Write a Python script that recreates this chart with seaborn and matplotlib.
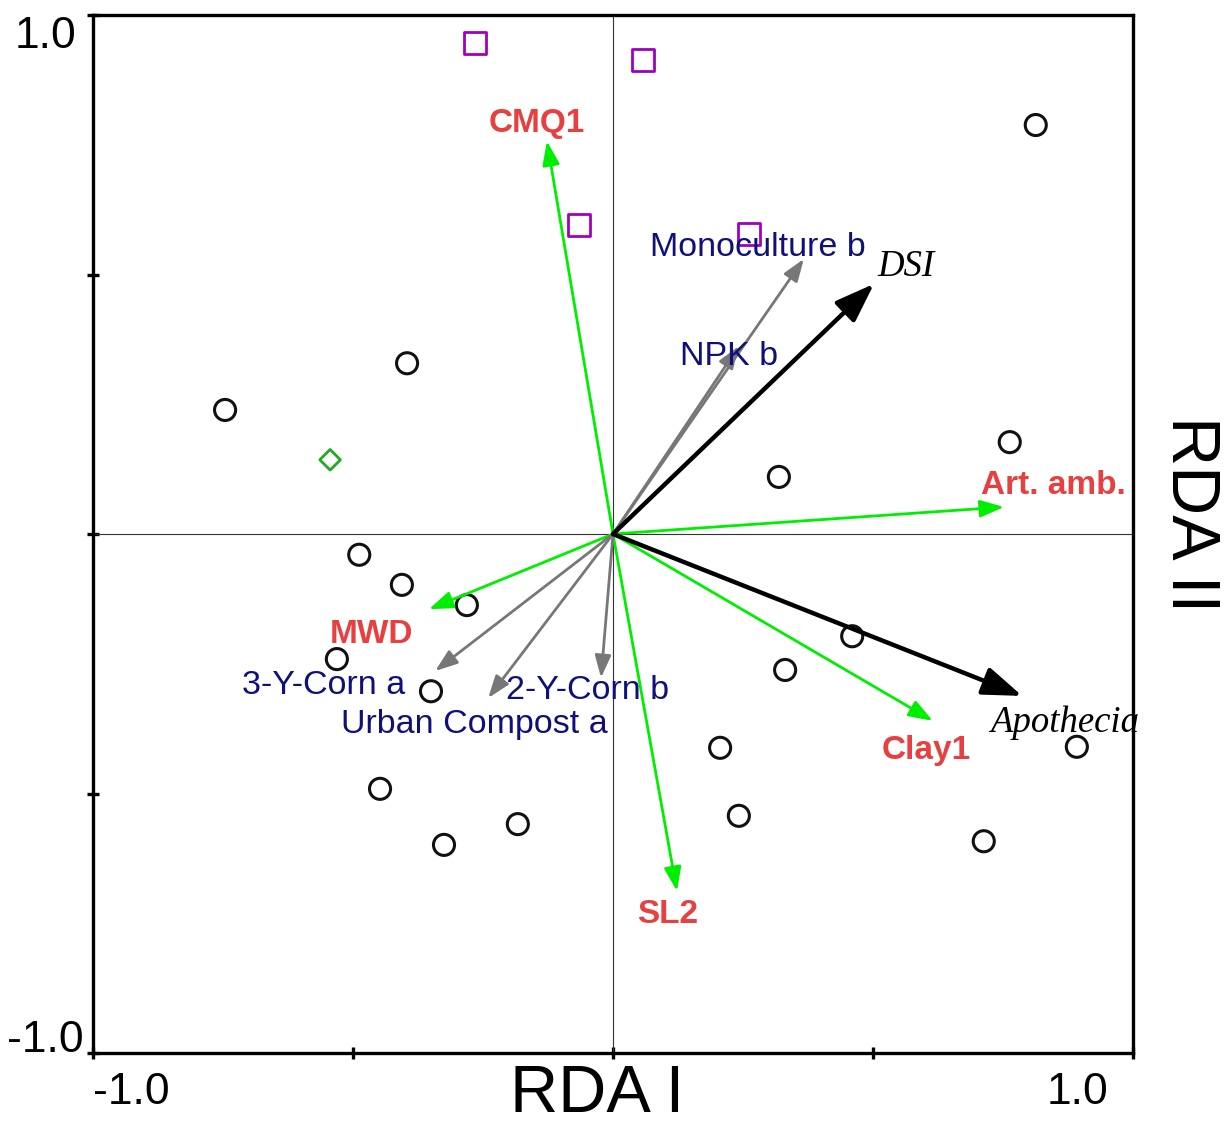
import matplotlib
matplotlib.use("Agg")
import matplotlib.pyplot as plt
import seaborn as sns
import pandas as pd

# Sample scores
site_x = [0.813, -0.396, -0.746, 0.763, 0.319, -0.488, -0.406, -0.281, 0.460, -0.531,
          0.331, -0.350, 0.206, 0.892, -0.448, -0.183, 0.242, -0.325, 0.713]
site_y = [0.788, 0.329, 0.239, 0.177, 0.110, -0.040, -0.098, -0.137, -0.197, -0.241,
          -0.262, -0.303, -0.412, -0.410, -0.491, -0.559, -0.543, -0.599, -0.592]
square_x = [-0.265, 0.058, -0.065, 0.262]
square_y = [0.946, 0.913, 0.595, 0.578]
diamond_x = [-0.544]
diamond_y = [0.143]

# Soil variables (green arrows)
env_names = ["CMQ1", "Art. amb.", "MWD", "Clay1", "SL2"]
env_x = [-0.127, 0.752, -0.354, 0.615, 0.123]
env_y = [0.757, 0.052, -0.145, -0.360, -0.688]

# Management factors (grey arrows)
trt_names = ["Monoculture b", "NPK b", "3-Y-Corn a", "Urban Compost a", "2-Y-Corn b"]
trt_x = [0.367, 0.242, -0.342, -0.240, -0.023]
trt_y = [0.530, 0.362, -0.264, -0.316, -0.277]

# Response variables (black arrows)
resp_names = ["DSI", "Apothecia"]
resp_x = [0.502, 0.787]
resp_y = [0.482, -0.312]

# label offsets from arrow tips, in pixels
env_off = [(-10, 18), (49, 22), (-57, -25), (-7, -30), (-9, -23)]
trt_off = [(-46, 11), (-10, -10), (-112, -14), (-14, -26), (-13, -13)]
resp_off = [(32, 17), (42, -27)]

sns.set_style("white")
plt.rcParams["font.family"] = ["Liberation Sans", "DejaVu Sans"]

fig = plt.figure(figsize=(12.25, 11.27), dpi=100)
ax = fig.add_axes([93 / 1225, 1 - 1053 / 1127, 1040 / 1225, 1038 / 1127])
ax.set_xlim(-1, 1)
ax.set_ylim(-1, 1)

ax.axhline(0, color="#333333", lw=0.8, zorder=1)
ax.axvline(0, color="#333333", lw=0.8, zorder=1)

sites = pd.DataFrame({"x": site_x, "y": site_y})
squares = pd.DataFrame({"x": square_x, "y": square_y})
diamonds = pd.DataFrame({"x": diamond_x, "y": diamond_y})

sns.scatterplot(data=sites, x="x", y="y", ax=ax, marker="o", s=230,
                facecolor="none", edgecolor="#111111", linewidth=2.2, zorder=3)
sns.scatterplot(data=squares, x="x", y="y", ax=ax, marker="s", s=260,
                facecolor="none", edgecolor="#a000c0", linewidth=2.0, zorder=3)
sns.scatterplot(data=diamonds, x="x", y="y", ax=ax, marker="D", s=110,
                facecolor="none", edgecolor="#22aa22", linewidth=2.0, zorder=3)


def arrow(x, y, color, lw, scale, hw):
    ax.annotate("", xy=(x, y), xytext=(0, 0),
                arrowprops=dict(arrowstyle=f"-|>,head_length=0.5,head_width={hw}",
                                color=color, lw=lw,
                                mutation_scale=scale, shrinkA=0, shrinkB=0),
                zorder=4)


def label(text, x, y, off, **kw):
    ax.annotate(text, xy=(x, y), xytext=off, textcoords="offset pixels",
                ha="center", va="center", zorder=5, **kw)


for n, x, y, o in zip(env_names, env_x, env_y, env_off):
    arrow(x, y, "#00ee00", 2.0, 29, 0.18)
    label(n, x, y, o, color="#e84040", fontsize=24, fontweight="bold")

for n, x, y, o in zip(trt_names, trt_x, trt_y, trt_off):
    arrow(x, y, "#777777", 2.0, 27, 0.18)
    label(n, x, y, o, color="#10107a", fontsize=24.5)

for n, x, y, o in zip(resp_names, resp_x, resp_y, resp_off):
    arrow(x, y, "black", 3.2, 48, 0.18)
    label(n, x, y, o, color="black", fontsize=26.5, style="italic",
          family="Liberation Serif")

# frame and ticks
for s in ax.spines.values():
    s.set_color("black")
    s.set_linewidth(2.4)
ax.set_xticks([-1, -0.5, 0, 0.5, 1])
ax.set_yticks([-1, -0.5, 0, 0.5, 1])
ax.set_xticklabels([])
ax.set_yticklabels([])
ax.tick_params(direction="inout", length=8, width=2.4, color="black",
               bottom=True, left=True)
ax.set_xlabel("")
ax.set_ylabel("")

tick_kw = dict(fontsize=32, color="black", textcoords="offset pixels")
ax.annotate("-1.0", xy=(-1, -1), xytext=(0, -40), ha="left", va="center", **tick_kw)
ax.annotate("1.0", xy=(1, -1), xytext=(-56, -40), ha="center", va="center", **tick_kw)
ax.annotate("1.0", xy=(-1, 1), xytext=(-47, -22), ha="center", va="center", **tick_kw)
ax.annotate("-1.0", xy=(-1, -1), xytext=(-48, 13), ha="center", va="center", **tick_kw)

fig.text(597 / 1225, 1 / 1127, "RDA I", ha="center", va="bottom",
         fontsize=48, color="black")
ax.annotate("RDA II", xy=(1, 0), xytext=(57, 20), textcoords="offset pixels",
            ha="center", va="center", fontsize=49, color="black", rotation=-90)

fig.savefig("out.png", dpi=100)
